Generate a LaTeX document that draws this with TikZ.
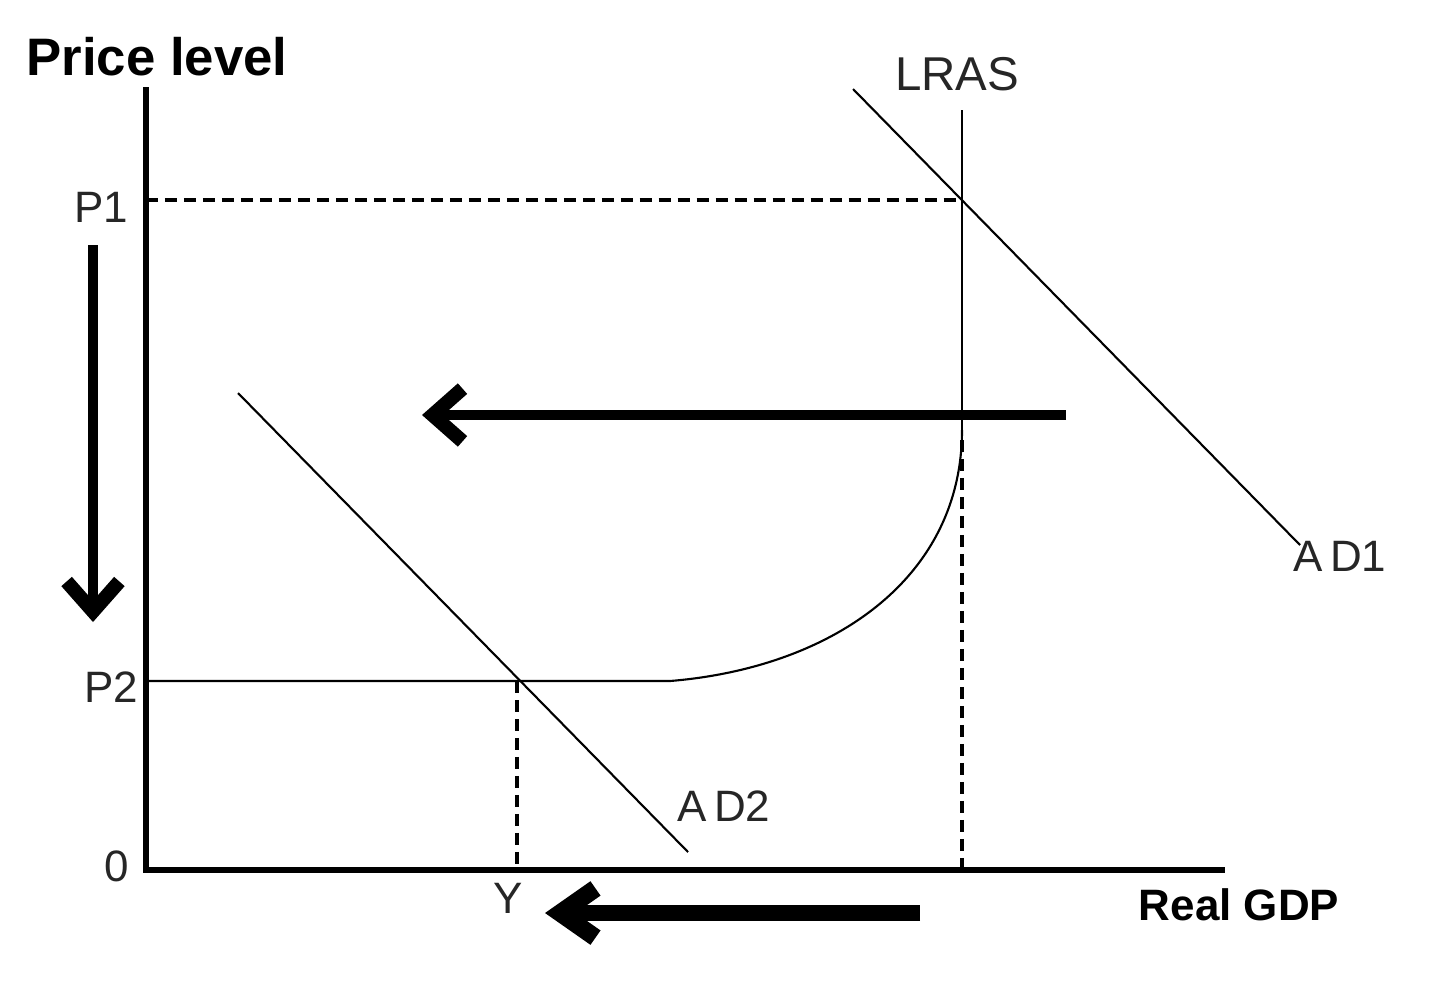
\documentclass[tikz,border=0pt]{standalone}
\usepackage{fontspec}
\setmainfont{Liberation Sans}
\usetikzlibrary{arrows.meta}
\tikzset{
  axis/.style={line width=1.5pt},
  thinline/.style={line width=0.6pt},
  dashline/.style={line width=1.1pt, dash pattern=on 3.4pt off 2pt},
  bigarrow/.style={line width=3pt, -{Straight Barb[length=8.5pt,width=15pt,line width=4pt]}},
  fatarrow/.style={line width=4.5pt, -{Straight Barb[length=10pt,width=14pt,line width=5pt]}},
  lab/.style={font=\fontsize{12.5}{14}\selectfont, text=black!85, inner sep=0pt},
  boldlab/.style={font=\fontsize{15}{17}\bfseries\selectfont, inner sep=0pt},
}
\begin{document}
\begin{tikzpicture}[x=0.01cm, y=-0.01cm]
\useasboundingbox (0,0) rectangle (1440,984);
% key points
\coordinate (O) at (146,870);
\coordinate (Ytop) at (146,87);
\coordinate (Xend) at (1225,870);
\coordinate (P1a) at (146,200);
\coordinate (E1) at (962,200);
\coordinate (Ltop) at (962,110);
\coordinate (Lmid) at (962,440);
\coordinate (Lbot) at (962,870);
\coordinate (P2a) at (146,681);
\coordinate (E2) at (517,681);
\coordinate (Ybot) at (517,870);
\coordinate (Cs) at (670,681);
\coordinate (Ce) at (962,430);
\coordinate (AD1a) at (853,89);
\coordinate (AD1b) at (1300,545);
\coordinate (AD2a) at (238,393);
\coordinate (AD2b) at (688,852);
\coordinate (H1) at (1066,415);
\coordinate (H2) at (422,415);
\coordinate (D1) at (93,245);
\coordinate (D2) at (93,622);
\coordinate (B1) at (920,913);
\coordinate (B2) at (545,913);

% axes
\draw[axis] (Ytop) -- (O) -- (Xend);
% LRAS
\draw[thinline] (Ltop) -- (Lmid);
\draw[dashline] (Lmid) -- (Lbot);
% P1 dashed
\draw[dashline] (P1a) -- (E1);
% AD curves
\draw[thinline] (AD1a) -- (AD1b);
\draw[thinline] (AD2a) -- (AD2b);
% P2 line and adjustment curve
\draw[thinline] (P2a) -- (Cs) .. controls (830,668) and (962,580) .. (Ce);
% Y dashed
\draw[dashline] (E2) -- (Ybot);
% arrows
\draw[bigarrow] (H1) -- (H2);
\draw[bigarrow] (D1) -- (D2);
\draw[fatarrow] (B1) -- (B2);

% labels
\node[boldlab] (pl) at (157,57) {Price level};
\node[font=\fontsize{12.5}{14}\bfseries\selectfont, inner sep=0pt] (rg) at (1239,905) {Real GDP};
\node[lab, font=\fontsize{13.5}{15}\selectfont] (lras) at (957,74) {LRAS};
\node[lab] (p1) at (101,207) {P1};
\node[lab] (p2) at (111,687) {P2};
\node[lab] (zero) at (117,866) {0};
\node[lab] (yl) at (508,898) {Y};
\node[lab] (ad1) at (1340,556) {A\,D1};
\node[lab] (ad2) at (724,806) {A\,D2};
\end{tikzpicture}
\end{document}
